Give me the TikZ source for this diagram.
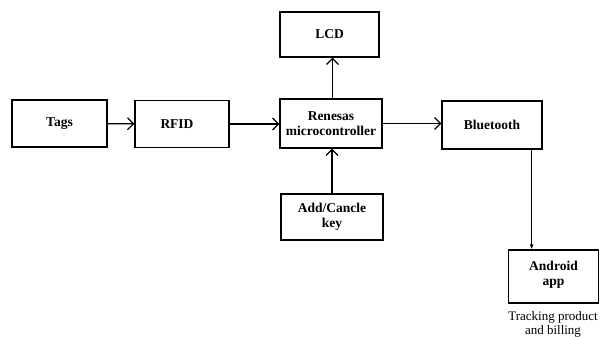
\documentclass[tikz,border=0pt]{standalone}
\usepackage{fontspec}
\setmainfont{Liberation Serif}
\usetikzlibrary{arrows.meta}
\begin{document}
\begin{tikzpicture}[x=1pt,y=-1pt,
  blk/.style={draw,line width=1.3pt,inner sep=0pt,align=center,
    font=\fontsize{13.5}{14.5}\selectfont\bfseries},
  conn/.style={line width=1.2pt,-{Straight Barb[length=6pt,width=12pt,line width=1.2pt]}},
  thin/.style={line width=1.1pt,-{Latex[length=5pt,width=4pt]}}]
\useasboundingbox (0,0) rectangle (600,337);
\node[blk,minimum width=95pt,minimum height=47pt] (tags) at (59.5,123.5) {Tags};
\node[blk,minimum width=94pt,minimum height=47pt] (rfid) at (182,124) {\hspace*{-10pt}RFID};
\node[blk,minimum width=102pt,minimum height=49pt] (mcu) at (331,123.5) {Renesas\\microcontroller};
\node[blk,minimum width=99pt,minimum height=45pt] (lcd) at (329.5,34.5) {LCD};
\node[blk,minimum width=100pt,minimum height=48pt] (bt) at (492,125) {Bluetooth};
\node[blk,minimum width=102pt,minimum height=46pt] (key) at (332,217) {Add/Cancle\\key};
\node[blk,minimum width=90pt,minimum height=53pt] (app) at (553.5,276.5) {Android\\app\\[-8pt]};
\node[align=center,inner sep=0pt,font=\fontsize{13}{14}\selectfont] (lbl) at (553,324) {Tracking product\\and billing};
\draw[conn] (tags) -- (rfid);
\draw[conn] (rfid.east) -- (mcu.west |- rfid.east);
\draw[conn] (mcu.east) -- (bt.west |- mcu.east);
\draw[conn] ([xshift=1.5pt]mcu.north) -- ([xshift=1.5pt]mcu.north |- lcd.south);
\draw[conn] (key.north) -- (key.north |- mcu.south);
\coordinate (btd) at ([xshift=-11pt]bt.south east);
\draw[thin] (btd) -- (btd |- app.north);
\end{tikzpicture}
\end{document}
